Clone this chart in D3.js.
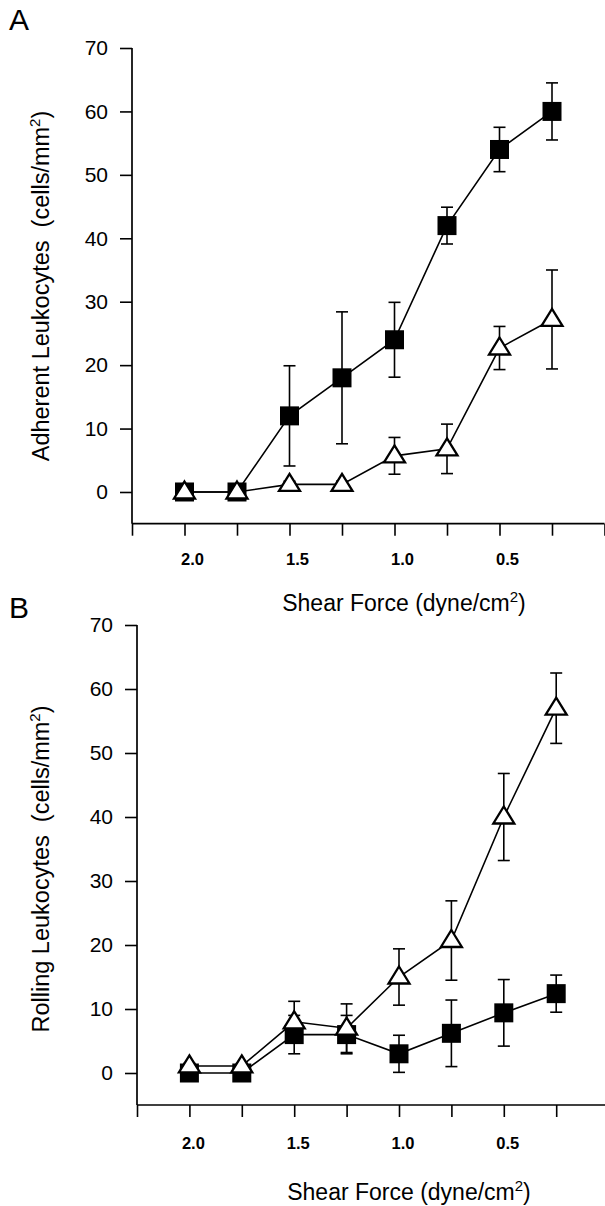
<!DOCTYPE html>
<html>
<head>
<meta charset="utf-8">
<script src="https://cdn.jsdelivr.net/npm/d3@7/dist/d3.min.js"></script>
<style>
  html, body { margin: 0; padding: 0; background: #fff; }
  svg { display: block; }
  text { font-family: "Liberation Sans", Arial, sans-serif; fill: #000; }
</style>
</head>
<body>
<svg id="chart" width="605" height="1206"></svg>
<script>
// ---- data ----
const shear = [2.0, 1.75, 1.5, 1.25, 1.0, 0.75, 0.5, 0.25];
const xTickValues = [2.25, 2.0, 1.75, 1.5, 1.25, 1.0, 0.75, 0.5, 0.25, 0.0];
const xTickLabels = ["2.0", "1.5", "1.0", "0.5"];
const yTicks = [0, 10, 20, 30, 40, 50, 60, 70];

const adherentSquare = [0, 0, 12, 18, 24, 42, 54, 60];
const adherentSquareErr = [0, 0, 7.9, 10.4, 5.9, 2.9, 3.5, 4.5];
const adherentTriangle = [0, 0, 1.2, 1.2, 5.7, 6.8, 22.7, 27.2];
const adherentTriangleErr = [0, 0, 0.5, 0.5, 2.9, 3.9, 3.4, 7.8];

const rollingSquare = [0, 0, 6, 6, 3, 6.2, 9.4, 12.4];
const rollingSquareErr = [0, 0, 3, 3, 2.9, 5.2, 5.2, 2.9];
const rollingTriangle = [1.1, 1.1, 8, 7, 15, 20.7, 40, 57];
const rollingTriangleErr = [0.4, 0.4, 3.2, 3.8, 4.4, 6.2, 6.8, 5.5];

const svg = d3.select("#chart");

function drawPanel(cfg) {
  const g = svg.append("g");
  const x = d3.scaleLinear().domain([2.25, 0]).range([cfg.x0, cfg.x1]);
  const y = d3.scaleLinear().domain([-5, 70]).range([cfg.yBottom, cfg.yTop]);

  // panel letter
  g.append("text").attr("x", 9).attr("y", cfg.letterY)
    .style("font-size", "30px").text(cfg.letter);

  // y axis
  const yAxis = g.append("g").attr("transform", `translate(${cfg.x0},0)`)
    .call(d3.axisLeft(y).tickValues(yTicks).tickSize(12).tickPadding(12).tickFormat(d3.format("d")));
  yAxis.select(".domain").attr("d", `M0,${cfg.yTop}V${cfg.yBottom}`).attr("stroke-width", 1.7);
  yAxis.selectAll(".tick line").attr("stroke-width", 1.6);
  yAxis.selectAll(".tick text").style("font-size", "21px")
    .style("font-family", '"Liberation Sans", Arial, sans-serif');

  // x axis
  const xAxis = g.append("g").attr("transform", `translate(0,${cfg.yBottom})`)
    .call(d3.axisBottom(x).tickValues(xTickValues).tickSize(12).tickFormat(""));
  xAxis.select(".domain").attr("d", `M${cfg.x0},0H${cfg.x1}`).attr("stroke-width", 1.7);
  xAxis.selectAll(".tick line").attr("stroke-width", 1.6);
  g.append("g").selectAll("text").data(xTickLabels).join("text")
    .attr("x", d => x(+d) + cfg.labelDx)
    .attr("y", cfg.yBottom + cfg.labelDy)
    .attr("text-anchor", "middle")
    .style("font-size", "16.5px").style("font-weight", "bold")
    .text(d => d);

  // x title
  const xt = g.append("text").attr("x", cfg.xTitleX).attr("y", cfg.xTitleY)
    .attr("text-anchor", "middle").style("font-size", "23px");
  xt.append("tspan").text("Shear Force (dyne/cm");
  xt.append("tspan").attr("dy", -9).style("font-size", "15px").text("2");
  xt.append("tspan").attr("dy", 9).text(")");

  // y title
  const yt = g.append("text")
    .attr("transform", `translate(${cfg.yTitleX},${cfg.yTitleY}) rotate(-90)`)
    .attr("text-anchor", "middle").style("font-size", "23.5px");
  yt.append("tspan").text(cfg.yTitle + "\u00a0\u00a0(cells/mm");
  yt.append("tspan").attr("dy", -9).style("font-size", "15px").text("2");
  yt.append("tspan").attr("dy", 9).text(")");

  const line = d3.line().x((d, i) => x(shear[i])).y(d => y(d));

  function errorBars(vals, errs) {
    const eg = g.append("g").attr("stroke", "#000").attr("stroke-width", 1.6).attr("fill", "none");
    vals.forEach((v, i) => {
      if (!errs[i]) return;
      const cx = x(shear[i]);
      const top = y(v + errs[i]), bot = y(v - errs[i]);
      eg.append("line").attr("x1", cx).attr("x2", cx).attr("y1", top).attr("y2", bot);
      eg.append("line").attr("x1", cx - 6).attr("x2", cx + 6).attr("y1", top).attr("y2", top);
      eg.append("line").attr("x1", cx - 6).attr("x2", cx + 6).attr("y1", bot).attr("y2", bot);
    });
  }

  errorBars(cfg.sq, cfg.sqErr);
  errorBars(cfg.tri, cfg.triErr);

  g.append("path").datum(cfg.sq).attr("d", line)
    .attr("fill", "none").attr("stroke", "#000").attr("stroke-width", 1.6);
  g.append("path").datum(cfg.tri).attr("d", line)
    .attr("fill", "none").attr("stroke", "#000").attr("stroke-width", 1.6);

  // squares
  g.append("g").selectAll("rect").data(cfg.sq).join("rect")
    .attr("x", (d, i) => x(shear[i]) - 9.5)
    .attr("y", d => y(d) - 9.5)
    .attr("width", 19).attr("height", 19).attr("fill", "#000");

  // triangles
  g.append("g").selectAll("path").data(cfg.tri).join("path")
    .attr("transform", (d, i) => `translate(${x(shear[i])},${y(d)})`)
    .attr("d", "M0,-10.5L10.5,6.5L-10.5,6.5Z")
    .attr("fill", "#fff").attr("stroke", "#000").attr("stroke-width", 2.3)
    .attr("stroke-linejoin", "miter");
}

drawPanel({
  letter: "A", letterY: 30,
  x0: 132, x1: 604.5, yTop: 48, yBottom: 523.7,
  labelDx: 8, labelDy: 41,
  xTitleX: 404, xTitleY: 611,
  yTitleX: 49, yTitleY: 286,
  yTitle: "Adherent Leukocytes",
  sq: adherentSquare, sqErr: adherentSquareErr,
  tri: adherentTriangle, triErr: adherentTriangleErr
});

drawPanel({
  letter: "B", letterY: 618,
  x0: 137, x1: 608.6, yTop: 625, yBottom: 1105,
  labelDx: 4, labelDy: 44,
  xTitleX: 409, xTitleY: 1200,
  yTitleX: 49, yTitleY: 869,
  yTitle: "Rolling Leukocytes",
  sq: rollingSquare, sqErr: rollingSquareErr,
  tri: rollingTriangle, triErr: rollingTriangleErr
});
</script>
</body>
</html>
